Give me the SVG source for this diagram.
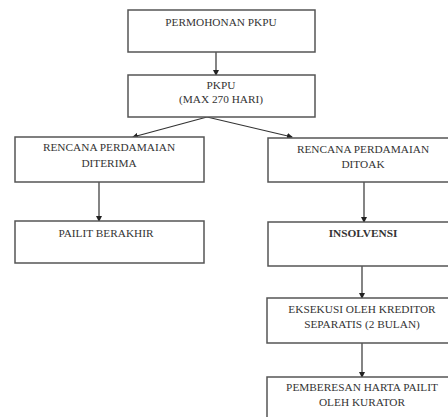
<svg xmlns="http://www.w3.org/2000/svg" width="448" height="417" viewBox="0 0 448 417">
<style>
.box{fill:#fff;stroke:#555;stroke-width:1.5}
.t{font-family:"Liberation Serif","DejaVu Serif","Times New Roman",serif;font-size:11.3px;fill:#333;text-anchor:middle}
.b{font-weight:bold}
.c{stroke:#333;stroke-width:1.2;fill:none;marker-end:url(#ah)}
</style>
<defs>
<marker id="ah" viewBox="0 0 6 6" refX="5" refY="3" markerWidth="5" markerHeight="5" orient="auto">
<path d="M0,0 L6,3 L0,6 z" fill="#222"/>
</marker>
</defs>
<rect width="448" height="417" fill="#fff"/>
<g id="connectors">
<line class="c" x1="216" y1="52" x2="216" y2="75"/>
<line class="c" x1="207" y1="117" x2="133" y2="137"/>
<line class="c" x1="207" y1="117" x2="292" y2="137"/>
<line class="c" x1="99" y1="182" x2="99" y2="221"/>
<line class="c" x1="364" y1="182" x2="364" y2="222"/>
<line class="c" x1="362" y1="266" x2="362" y2="298"/>
<line class="c" x1="362" y1="343" x2="362" y2="377"/>
</g>
<g id="n1"><rect class="box" x="128" y="10" width="187" height="42"/><text class="t" x="221" y="26">PERMOHONAN PKPU</text></g>
<g id="n2"><rect class="box" x="128" y="75" width="187" height="42"/><text class="t" x="221" y="89">PKPU</text><text class="t" x="221" y="103">(MAX 270 HARI)</text></g>
<g id="n3"><rect class="box" x="15" y="137" width="189" height="45"/><text class="t" x="109" y="151">RENCANA PERDAMAIAN</text><text class="t" x="109" y="167">DITERIMA</text></g>
<g id="n4"><rect class="box" x="15" y="221" width="189" height="42"/><text class="t" x="106" y="237">PAILIT BERAKHIR</text></g>
<g id="n5"><rect class="box" x="268" y="138" width="200" height="44"/><text class="t" x="363" y="153">RENCANA PERDAMAIAN</text><text class="t" x="363" y="168">DITOAK</text></g>
<g id="n6"><rect class="box" x="268" y="222" width="200" height="44"/><text class="t b" x="363" y="237">INSOLVENSI</text></g>
<g id="n7"><rect class="box" x="267" y="298" width="200" height="45"/><text class="t" x="362" y="313">EKSEKUSI OLEH KREDITOR</text><text class="t" x="362" y="328">SEPARATIS (2 BULAN)</text></g>
<g id="n8"><rect class="box" x="267" y="377" width="200" height="50"/><text class="t" x="362" y="391">PEMBERESAN HARTA PAILIT</text><text class="t" x="362" y="406">OLEH KURATOR</text></g>
</svg>
